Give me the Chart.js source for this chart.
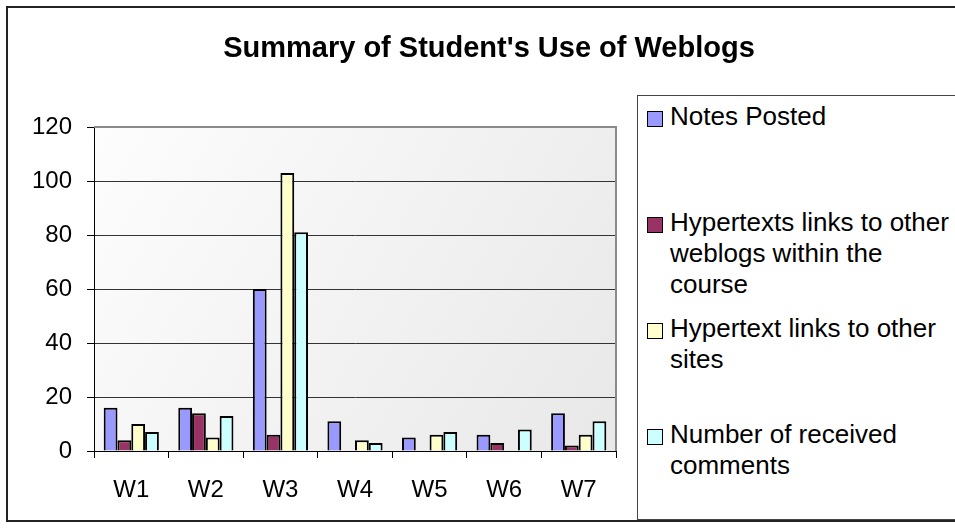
<!DOCTYPE html>
<html lang="en">
<head>
  <meta charset="UTF-8" />
  <title>Summary of Student's Use of Weblogs</title>
  <script src="https://cdn.jsdelivr.net/npm/chart.js"></script>
  <style>
    body {
      margin: 0;
      background: #fff;
      font-family: 'Liberation Sans', Arial, sans-serif;
      color: #000;
      overflow: hidden;
    }
    .wrap {
      position: relative;
      width: 955px;
      height: 529px;
      overflow: hidden;
      background: #fff;
    }
    .frame {
      position: absolute;
      left: 6px;
      top: 6px;
      width: 1000px;
      height: 512px;
      border: 2px solid #222;
      border-right: none;
    }
    #chart {
      position: absolute;
      left: 0;
      top: 0;
    }
    .title {
      position: absolute;
      left: 0;
      top: 33px;
      width: 978px;
      text-align: center;
      font-weight: bold;
      font-size: 29px;
      line-height: 29px;
      white-space: nowrap;
    }
    .legend {
      position: absolute;
      left: 637px;
      top: 95px;
      width: 400px;
      height: 425px;
      box-sizing: border-box;
      border: 1px solid #444;
      border-right: none;
      padding-top: 4.5px;
      background: #fff;
    }
    .item {
      position: relative;
      height: 106px;
      font-size: 26px;
      line-height: 31px;
      white-space: nowrap;
    }
    .item .box {
      position: absolute;
      left: 9px;
      top: 10.5px;
      width: 14px;
      height: 14px;
      border: 1px solid #000;
    }
    .item .txt {
      position: absolute;
      left: 32px;
      top: 0;
    }
  </style>
</head>
<body>
<div class="wrap">
  <div class="frame"></div>
  <canvas id="chart" width="955" height="529"></canvas>
  <div class="title">Summary of Student's Use of Weblogs</div>
  <div class="legend" id="legend"></div>
</div>

<script>
// data
const weeks = ["W1", "W2", "W3", "W4", "W5", "W6", "W7"];
const notesPosted = [16, 16, 60, 11, 5, 6, 14];
const linksToWeblogs = [4, 14, 6, 0, 0, 3, 2];
const linksToSites = [10, 5, 103, 4, 6, 0, 6];
const receivedComments = [7, 13, 81, 3, 7, 8, 11];
const yTicks = [0, 20, 40, 60, 80, 100, 120];

const seriesNames = [
  ["Notes Posted"],
  ["Hypertexts links to other", "weblogs within the", "course"],
  ["Hypertext links to other", "sites"],
  ["Number of received", "comments"]
];
const seriesColors = ["#9999ff", "#993366", "#ffffcc", "#ccffff"];
const seriesValues = [notesPosted, linksToWeblogs, linksToSites, receivedComments];

const plotFrame = {
  id: "plotFrame",
  beforeDraw(chart) {
    const { ctx, chartArea: a } = chart;
    const g = ctx.createLinearGradient(a.left, a.top, a.right, a.bottom);
    g.addColorStop(0, "#fdfdfd");
    g.addColorStop(1, "#e8e8e8");
    ctx.save();
    ctx.fillStyle = g;
    ctx.fillRect(a.left, a.top, a.right - a.left, a.bottom - a.top);
    ctx.restore();
  },
  beforeDatasetsDraw(chart) {
    const { ctx, chartArea: a } = chart;
    ctx.save();
    ctx.strokeStyle = "#8a8a8a";
    ctx.lineWidth = 2;
    ctx.beginPath();
    ctx.moveTo(a.left, a.top);
    ctx.lineTo(a.right, a.top);
    ctx.lineTo(a.right, a.bottom);
    ctx.stroke();
    ctx.restore();
  }
};

const font = "'Liberation Sans', Arial, sans-serif";

new Chart(document.getElementById("chart").getContext("2d"), {
  type: "bar",
  data: {
    labels: weeks,
    datasets: seriesValues.map((vals, i) => ({
      label: seriesNames[i].join(" "),
      data: vals,
      backgroundColor: seriesColors[i],
      borderColor: "#000",
      borderWidth: 2
    }))
  },
  options: {
    responsive: false,
    animation: false,
    categoryPercentage: 0.74,
    barPercentage: 1,
    layout: { padding: { left: 0, top: 127, right: 339, bottom: 18 } },
    plugins: {
      legend: { display: false },
      title: { display: false },
      tooltip: { enabled: false }
    },
    scales: {
      x: {
        afterFit: (s) => { s.height = 60; },
        grid: { offset: true, drawOnChartArea: false, drawTicks: true, tickLength: 7, color: "#000" },
        border: { display: true, color: "#000", width: 1 },
        ticks: { color: "#000", padding: 18, font: { family: font, size: 24 } }
      },
      y: {
        min: 0,
        max: 120,
        afterFit: (s) => { s.width = 94; },
        afterBuildTicks: (s) => { s.ticks = yTicks.map(v => ({ value: v })); },
        grid: { color: "#333", tickColor: "#000", tickLength: 7, drawTicks: true },
        border: { display: true, color: "#000", width: 1 },
        ticks: { color: "#000", padding: 15, font: { family: font, size: 24 } }
      }
    }
  },
  plugins: [plotFrame]
});

// legend, Excel style: one evenly spaced row per series
const legend = document.getElementById("legend");
seriesNames.forEach((lines, i) => {
  const item = document.createElement("div");
  item.className = "item";
  const box = document.createElement("span");
  box.className = "box";
  box.style.background = seriesColors[i];
  const txt = document.createElement("span");
  txt.className = "txt";
  txt.innerHTML = lines.join("<br>");
  item.appendChild(box);
  item.appendChild(txt);
  legend.appendChild(item);
});
</script>
</body>
</html>
